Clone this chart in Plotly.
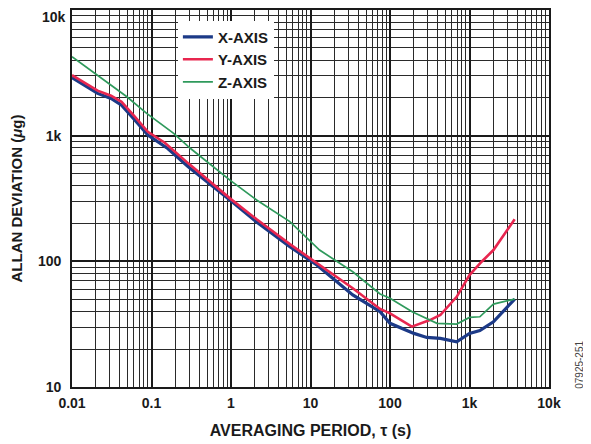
import plotly.graph_objects as go

# X-AXIS data
x_tau = [0.01, 0.021, 0.031, 0.042, 0.062, 0.09, 0.16, 0.29, 0.97, 2.1, 5.5, 12, 34, 75, 100, 200, 290, 430, 690, 1000, 1350, 2000, 3700]
x_dev = [2900, 2170, 1980, 1750, 1330, 1010, 790, 566, 308, 206, 131, 93.5, 54, 39.7, 32.1, 26.7, 24.8, 24.4, 22.9, 26.7, 28.1, 33, 50]

# Y-AXIS data
y_tau = [0.01, 0.021, 0.031, 0.042, 0.062, 0.09, 0.147, 0.29, 0.97, 2.1, 5.5, 12, 34, 75, 100, 188, 318, 430, 690, 1000, 1420, 2000, 3700]
y_dev = [3030, 2280, 2080, 1860, 1413, 1074, 879, 602, 317, 216, 137, 96.4, 61, 41.8, 38.6, 30.2, 34.1, 37.4, 52.2, 77.8, 99.3, 123, 216]

# Z-AXIS data
z_tau = [0.01, 0.0205, 0.049, 0.087, 0.19, 0.31, 0.97, 2.1, 5.5, 13, 34, 75, 100, 190, 290, 390, 690, 1000, 1350, 2000, 3700]
z_dev = [4250, 3030, 2040, 1503, 1042, 790, 443, 308, 207, 123, 82.6, 55, 50.8, 39.7, 35.2, 32.1, 31.7, 35.8, 36.2, 45.7, 50]

x_ticks = [0.01, 0.1, 1, 10, 100, 1000, 10000]
x_ticktext = ["0.01", "0.1", "1", "10", "100", "1k", "10k"]
y_ticks = [10, 100, 1000]
y_ticktext = ["10", "100", "1k"]
y_top_label = "10k"

FONT = "Liberation Sans, Arial, sans-serif"
INK = "#1a1a1a"

fig = go.Figure()
fig.add_trace(go.Scatter(x=x_tau, y=x_dev, mode="lines", name="X-AXIS",
                         line=dict(color="#1c3a87", width=3.2)))
fig.add_trace(go.Scatter(x=y_tau, y=y_dev, mode="lines", name="Y-AXIS",
                         line=dict(color="#e8264f", width=2.6)))
fig.add_trace(go.Scatter(x=z_tau, y=z_dev, mode="lines", name="Z-AXIS",
                         line=dict(color="#2f9a5c", width=1.7)))

axis_common = dict(
    type="log",
    automargin=False,
    showgrid=True, gridcolor=INK, gridwidth=1.6,
    showline=True, linecolor=INK, linewidth=1.6, mirror=True,
    ticks="", zeroline=False,
    ticklabeloverflow="allow",
    tickfont=dict(family=FONT, size=14, color=INK, weight="bold"),
    minor=dict(showgrid=True, dtick="D1", gridcolor="#2a2a2a", gridwidth=1, ticks=""),
)

fig.update_xaxes(**axis_common, range=[-2, 4], tickvals=x_ticks, ticktext=x_ticktext,
                 ticklabelstandoff=2,
                 title=dict(text="AVERAGING PERIOD, τ (s)", standoff=15,
                            font=dict(family=FONT, size=16, color=INK, weight="bold")))
fig.update_yaxes(**axis_common, range=[1, 4], tickvals=y_ticks, ticktext=y_ticktext,
                 ticklabelstandoff=6,
                 title=dict(text="ALLAN DEVIATION (<i>μ</i>g)", standoff=16,
                            font=dict(family=FONT, size=15, color=INK, weight="bold")))

# page body has an 8px margin, so the figure is 8px smaller than the window
fig.update_layout(
    width=583, height=436,
    margin=dict(l=64, r=42, t=2, b=57),
    plot_bgcolor="white", paper_bgcolor="white",
    showlegend=True,
    legend=dict(x=0.222, y=0.972, xanchor="left", yanchor="top",
                bgcolor="white", borderwidth=0, tracegroupgap=0,
                itemwidth=30,
                font=dict(family=FONT, size=15, color=INK, weight="bold")),
    annotations=[
        dict(text="07925-251", x=1.065, y=-0.01, xref="paper", yref="paper",
             xanchor="center", yanchor="bottom", textangle=-90, showarrow=False,
             font=dict(family=FONT, size=10, color="#444")),
        dict(text=y_top_label, x=0, y=1, xref="paper", yref="paper",
             xanchor="right", yanchor="top", xshift=-5, yshift=2, showarrow=False,
             borderpad=0,
             font=dict(family=FONT, size=14, color=INK, weight="bold")),
    ],
)

fig.write_html("out.html")
